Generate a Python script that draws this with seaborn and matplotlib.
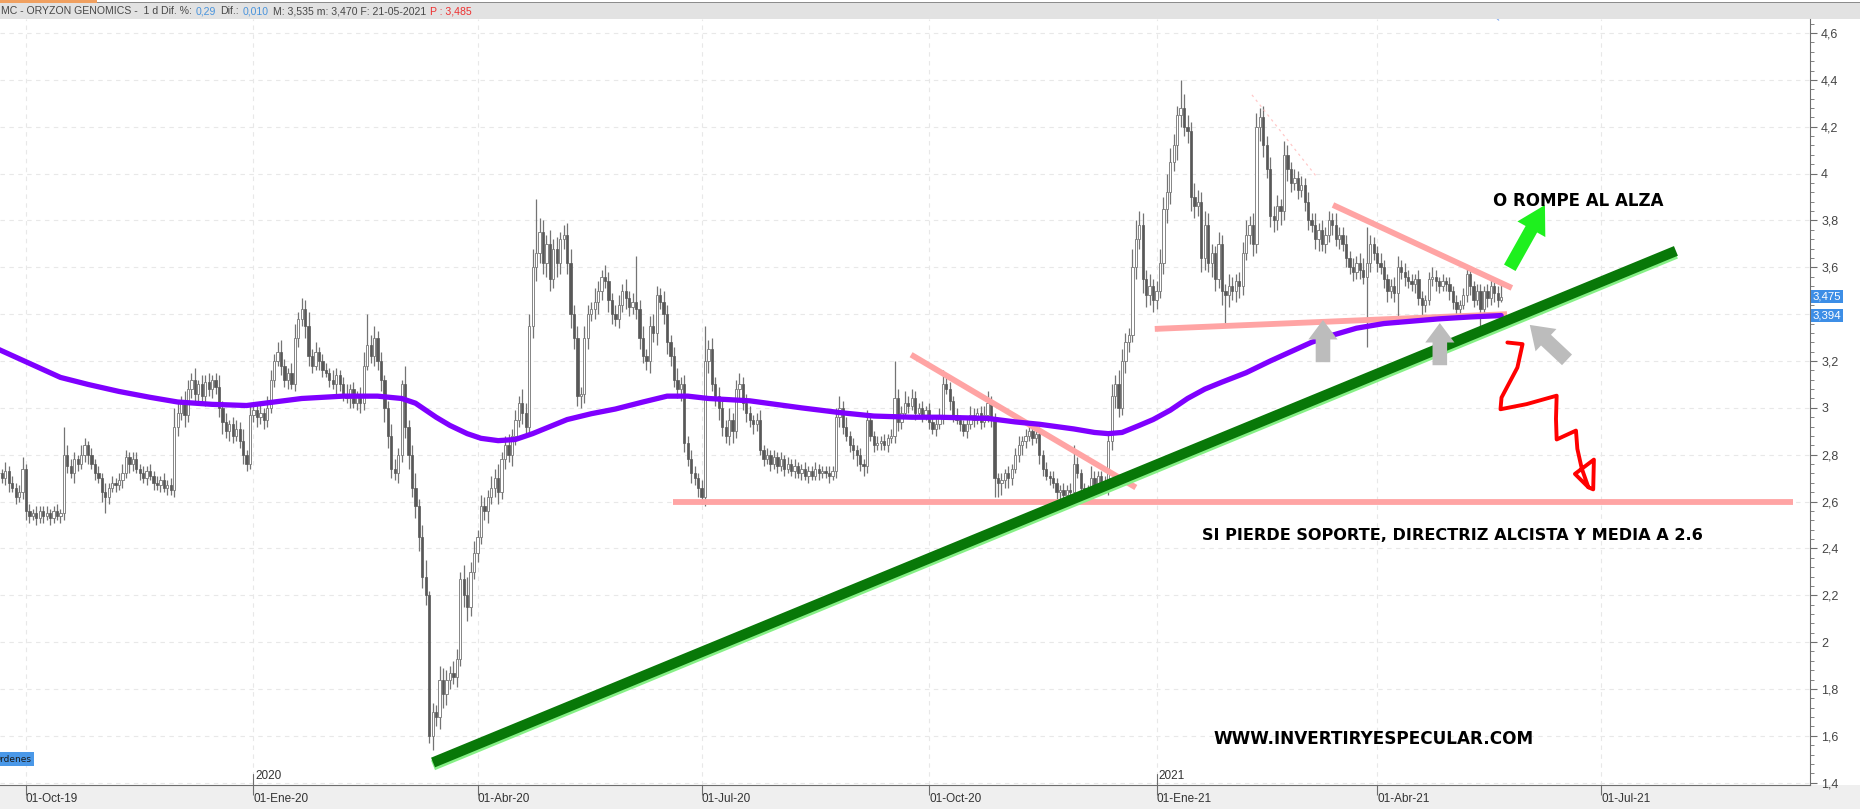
import numpy as np
import pandas as pd
import seaborn as sns
import matplotlib.pyplot as plt
import matplotlib.transforms as mtrans
from matplotlib.patches import Rectangle
from matplotlib.ticker import FuncFormatter, MultipleLocator

# daily closes, ORYZON GENOMICS, 19-Sep-2019 .. 21-May-2021
close = [
    2.72, 2.70, 2.73, 2.68, 2.66, 2.62, 2.64, 2.74, 2.56, 2.54,
    2.55, 2.53, 2.56, 2.54, 2.55, 2.53, 2.56, 2.54, 2.55, 2.80,
    2.75, 2.72, 2.78, 2.76, 2.80, 2.84, 2.80, 2.76, 2.72, 2.70,
    2.64, 2.62, 2.66, 2.68, 2.67, 2.69, 2.72, 2.79, 2.76, 2.78,
    2.74, 2.72, 2.70, 2.73, 2.71, 2.68, 2.67, 2.69, 2.66, 2.67,
    2.65, 2.92, 2.98, 3.02, 2.97, 3.08, 3.12, 3.06, 3.10, 3.05,
    3.11, 3.08, 3.12, 3.09, 3.00, 2.94, 2.90, 2.93, 2.88, 2.91,
    2.86, 2.80, 2.76, 2.97, 2.99, 2.96, 2.98, 2.95, 3.00, 3.12,
    3.20, 3.24, 3.18, 3.12, 3.15, 3.10, 3.30, 3.38, 3.42, 3.35,
    3.22, 3.18, 3.24, 3.20, 3.16, 3.15, 3.12, 3.10, 3.14, 3.10,
    3.06, 3.04, 3.08, 3.02, 3.05, 3.02, 3.18, 3.27, 3.22, 3.30,
    3.20, 3.12, 3.00, 2.88, 2.74, 2.72, 2.80, 3.10, 2.92, 2.80,
    2.66, 2.58, 2.45, 2.28, 2.20, 1.60, 1.70, 1.68, 1.84, 1.78,
    1.84, 1.87, 1.85, 1.93, 2.27, 2.20, 2.15, 2.30, 2.38, 2.45,
    2.58, 2.56, 2.62, 2.66, 2.70, 2.64, 2.78, 2.84, 2.80, 2.88,
    2.95, 3.02, 2.98, 2.92, 3.35, 3.60, 3.66, 3.75, 3.62, 3.70,
    3.55, 3.68, 3.62, 3.72, 3.74, 3.62, 3.40, 3.30, 3.05, 3.06,
    3.30, 3.40, 3.42, 3.45, 3.50, 3.56, 3.54, 3.46, 3.40, 3.38,
    3.44, 3.50, 3.47, 3.43, 3.45, 3.42, 3.30, 3.22, 3.20, 3.35,
    3.32, 3.48, 3.45, 3.40, 3.28, 3.22, 3.12, 3.08, 3.10, 2.85,
    2.78, 2.72, 2.70, 2.66, 2.62, 3.20, 3.25, 3.10, 3.05, 3.00,
    2.92, 2.88, 2.95, 2.90, 3.08, 3.10, 3.02, 2.98, 2.95, 2.93,
    2.95, 2.82, 2.78, 2.80, 2.76, 2.79, 2.75, 2.78, 2.74, 2.76,
    2.73, 2.75, 2.72, 2.74, 2.71, 2.73, 2.71, 2.74, 2.72, 2.73,
    2.72, 2.71, 2.73, 2.96, 3.00, 2.92, 2.88, 2.84, 2.82, 2.80,
    2.76, 2.75, 2.95, 2.88, 2.84, 2.85, 2.86, 2.84, 2.87, 2.88,
    3.04, 2.94, 2.98, 3.02, 3.01, 3.04, 2.98, 3.00, 2.97, 2.99,
    2.94, 2.91, 2.93, 2.96, 3.10, 3.08, 3.03, 2.97, 2.95, 2.93,
    2.90, 2.93, 2.97, 2.95, 2.98, 2.94, 2.97, 3.02, 2.96, 2.70,
    2.68, 2.69, 2.72, 2.70, 2.74, 2.80, 2.84, 2.86, 2.88, 2.90,
    2.87, 2.89, 2.80, 2.74, 2.71, 2.70, 2.68, 2.64, 2.65, 2.63,
    2.65, 2.64, 2.76, 2.72, 2.66, 2.64, 2.63, 2.70, 2.66, 2.71,
    2.68, 2.66, 2.86, 3.05, 3.10, 3.00, 3.20, 3.28, 3.31, 3.60,
    3.72, 3.78, 3.55, 3.48, 3.52, 3.46, 3.50, 3.62, 3.85, 3.92,
    4.05, 4.12, 4.25, 4.28, 4.20, 4.18, 3.90, 3.86, 3.88, 3.64,
    3.78, 3.62, 3.66, 3.55, 3.70, 3.50, 3.48, 3.52, 3.50, 3.54,
    3.52, 3.66, 3.74, 3.78, 3.70, 4.20, 4.24, 4.12, 4.02, 3.82,
    3.80, 3.86, 3.84, 4.08, 4.02, 3.96, 3.98, 3.93, 3.95, 3.88,
    3.80, 3.78, 3.72, 3.76, 3.70, 3.74, 3.80, 3.78, 3.72, 3.74,
    3.70, 3.64, 3.60, 3.58, 3.62, 3.59, 3.56, 3.62, 3.70, 3.66,
    3.62, 3.60, 3.55, 3.50, 3.52, 3.49, 3.60, 3.58, 3.56, 3.54,
    3.53, 3.55, 3.47, 3.44, 3.46, 3.55, 3.56, 3.54, 3.52, 3.54,
    3.53, 3.50, 3.45, 3.42, 3.44, 3.48, 3.57, 3.52, 3.46, 3.50,
    3.42, 3.50, 3.47, 3.52, 3.49, 3.46, 3.475,
]

# upper / lower shadow beyond the body, in cents
wick_up = [
    3, 2, 4, 2, 3, 2, 3, 5, 2, 3,   2, 3, 2, 2, 3, 2, 2, 3, 2, 12,
    4, 3, 3, 2, 4, 3, 2, 3, 2, 3,   2, 4, 2, 3, 2, 3, 4, 3, 2, 3,
    3, 2, 3, 2, 3, 2, 3, 2, 3, 2,   3, 8, 4, 3, 5, 4, 3, 5, 2, 4,
    3, 4, 2, 3, 5, 3, 4, 2, 3, 4,   3, 5, 2, 4, 3, 3, 4, 2, 5, 4,
    3, 4, 5, 3, 2, 4, 6, 3, 5, 4,   6, 3, 4, 2, 3, 3, 2, 4, 3, 2,
    3, 4, 2, 3, 2, 4, 6, 13, 4, 5,  3, 4, 2, 3, 5, 4, 3, 2, 8, 3,
    4, 6, 3, 5, 7, 2, 4, 3, 6, 5,   4, 3, 5, 4, 3, 6, 8, 4, 5, 3,
    5, 4, 3, 5, 4, 6, 3, 4, 5, 3,   4, 3, 6, 4, 5, 8, 23, 6, 5, 4,
    6, 4, 5, 3, 4, 5, 6, 4, 5, 3,   5, 4, 3, 6, 4, 3, 5, 4, 3, 4,
    4, 3, 5, 3, 4, 20, 4, 5, 3, 4,  5, 4, 3, 5, 4, 3, 4, 5, 3, 4,
    3, 4, 3, 2, 3, 15, 4, 5, 3, 4,  4, 3, 5, 3, 4, 5, 3, 4, 3, 2,
    3, 4, 2, 3, 2, 3, 2, 3, 2, 3,   2, 3, 2, 2, 3, 2, 2, 3, 2, 2,
    2, 3, 2, 4, 5, 3, 4, 2, 3, 2,   3, 2, 4, 3, 2, 3, 2, 3, 2, 3,
    16, 4, 3, 5, 3, 4, 3, 2, 3, 2,  3, 2, 3, 4, 6, 4, 3, 2, 3, 2,
    2, 3, 4, 3, 2, 3, 4, 5, 3, 2,   2, 3, 2, 3, 2, 3, 4, 2, 3, 4,
    3, 2, 3, 2, 3, 2, 3, 2, 2, 3,   2, 3, 8, 3, 2, 2, 3, 5, 3, 2,
    2, 3, 4, 5, 4, 6, 5, 4, 3, 8,   8, 6, 5, 4, 5, 3, 4, 6, 5, 8,
    6, 5, 4, 12, 6, 5, 4, 6, 5, 4,  6, 5, 4, 3, 5, 4, 3, 5, 4, 3,
    4, 5, 6, 4, 5, 6, 4, 5, 4, 5,   4, 5, 3, 6, 4, 3, 4, 3, 4, 3,
    4, 3, 5, 3, 4, 3, 4, 3, 5, 3,   3, 4, 3, 4, 3, 4, 5, 15, 4, 3,
    3, 4, 3, 2, 3, 4, 5, 3, 4, 3,   3, 2, 4, 3, 2, 3, 4, 3, 2, 3,
    2, 3, 2, 3, 2, 3, 4, 3, 2, 3,   3, 2, 3, 4, 2, 3, 6,
]
wick_dn = [
    3, 2, 3, 4, 2, 3, 2, 3, 4, 3,   2, 3, 2, 3, 2, 3, 2, 2, 3, 3,
    3, 2, 4, 3, 2, 3, 4, 2, 3, 2,   4, 7, 3, 2, 3, 2, 3, 2, 4, 3,
    2, 3, 2, 3, 2, 3, 2, 3, 2, 3,   2, 3, 4, 3, 5, 3, 4, 3, 4, 3,
    4, 3, 4, 3, 4, 5, 3, 4, 3, 2,   3, 4, 3, 2, 3, 4, 3, 4, 3, 2,
    3, 2, 4, 3, 4, 2, 3, 4, 3, 5,   4, 3, 2, 4, 3, 2, 3, 2, 4, 3,
    3, 2, 4, 2, 3, 4, 3, 2, 3, 4,   4, 5, 6, 5, 4, 3, 4, 3, 5, 6,
    4, 5, 6, 5, 4, 3, 6, 4, 5, 6,   5, 4, 3, 4, 3, 5, 6, 4, 3, 4,
    3, 4, 5, 3, 4, 5, 3, 4, 3, 5,   4, 3, 5, 4, 3, 5, 6, 4, 5, 6,
    5, 4, 6, 5, 4, 5, 6, 5, 4, 5,   4, 5, 3, 4, 5, 4, 3, 5, 4, 3,
    4, 3, 5, 4, 3, 4, 5, 3, 4, 5,   4, 5, 3, 4, 5, 4, 3, 4, 5, 4,
    3, 4, 3, 4, 3, 4, 5, 3, 4, 5,   4, 3, 4, 5, 3, 4, 3, 4, 3, 4,
    3, 2, 3, 2, 3, 2, 3, 2, 3, 2,   2, 3, 2, 3, 2, 3, 2, 2, 3, 2,
    2, 3, 2, 3, 4, 3, 2, 3, 4, 5,   3, 4, 3, 2, 3, 2, 3, 2, 3, 2,
    3, 4, 3, 2, 3, 2, 3, 2, 3, 2,   3, 2, 3, 2, 3, 2, 4, 3, 2, 3,
    2, 3, 2, 3, 2, 3, 2, 3, 4, 8,   6, 5, 3, 4, 3, 2, 3, 4, 3, 2,
    3, 2, 4, 3, 2, 3, 2, 4, 3, 2,   3, 2, 3, 2, 3, 2, 3, 2, 3, 2,
    3, 2, 3, 4, 5, 4, 3, 5, 4, 3,   5, 4, 6, 5, 4, 5, 4, 3, 5, 6,
    5, 4, 6, 5, 4, 5, 6, 5, 4, 6,   5, 4, 6, 5, 4, 6, 12, 5, 4, 5,
    5, 4, 3, 4, 5, 4, 6, 5, 4, 5,   5, 4, 6, 4, 5, 4, 3, 4, 3, 4,
    4, 3, 4, 5, 3, 4, 3, 4, 3, 4,   3, 4, 3, 4, 3, 4, 3, 30, 4, 3,
    4, 3, 4, 5, 3, 4, 13, 3, 4, 3,  3, 4, 3, 5, 3, 2, 3, 4, 3, 2,
    3, 4, 3, 2, 4, 2, 3, 4, 3, 2,   8, 3, 4, 3, 4, 3, 1,
]

# moving average (bar number, value)
ma_bar = [0, 9, 18, 26, 35, 44, 52, 62, 72, 80, 88, 100, 110, 117, 121, 124,
          127, 131, 136, 140, 145, 150, 155, 160, 165, 172, 179, 187, 194, 200,
          206, 218, 233, 244, 254, 265, 273, 287, 295, 302, 312, 318, 322, 326,
          331, 335, 340, 345, 350, 355, 362, 369, 375, 381, 387, 394, 402, 410,
          418, 427, 436]
ma_val = [3.25, 3.19, 3.13, 3.10, 3.07, 3.045, 3.025, 3.015, 3.01, 3.025, 3.04,
          3.05, 3.05, 3.04, 3.02, 2.99, 2.96, 2.925, 2.89, 2.87, 2.86, 2.865,
          2.89, 2.92, 2.95, 2.975, 2.995, 3.025, 3.05, 3.05, 3.04, 3.03, 3.00,
          2.98, 2.965, 2.96, 2.96, 2.955, 2.94, 2.93, 2.91, 2.895, 2.89, 2.895,
          2.925, 2.95, 2.99, 3.04, 3.08, 3.11, 3.15, 3.20, 3.24, 3.28, 3.31,
          3.34, 3.36, 3.37, 3.38, 3.388, 3.394]

tick_dates = ['2019-10-01', '2020-01-01', '2020-04-01', '2020-07-01',
              '2020-10-01', '2021-01-01', '2021-04-01', '2021-07-01']
tick_text = ['01-Oct-19', '01-Ene-20', '01-Abr-20', '01-Jul-20',
             '01-Oct-20', '01-Ene-21', '01-Abr-21', '01-Jul-21']
year_dates = ['2020-01-01', '2021-01-01']
year_text = ['2020', '2021']

# drawn lines (bar number, price)
trend_green = ([126.1, 486.7], [1.486, 3.67])
support = ([195.6, 520.8], [2.6, 2.6])
down_oct = ([264.8, 330.0], [3.227, 2.66])
tri_top = ([387.2, 439.1], [3.866, 3.512])
tri_low = ([335.5, 437.7], [3.337, 3.40])
faint_top = ([363.7, 382.8], [4.336, 3.98])
squiggle_x = [437.8, 442.2, 440.7, 436.1, 435.8, 443.4, 452.1, 451.9, 452.1,
              457.7, 458.1, 459.4, 461.3, 457.4, 462.9, 462.7, 461.3]
squiggle_y = [3.279, 3.272, 3.172, 3.044, 2.994, 3.016, 3.052, 2.953, 2.865,
              2.903, 2.825, 2.740, 2.661, 2.718, 2.779, 2.652, 2.661]

sns.set_theme(style='white')
plt.rcParams['font.family'] = ['DejaVu Sans']
axis_font = ['Liberation Sans', 'DejaVu Sans']

n = len(close)
dates = pd.bdate_range(end='2021-05-21', periods=n)
calendar = pd.bdate_range(start=dates[0], periods=620)

cl = np.array(close)
op = np.r_[cl[0], cl[:-1]]
hi = np.maximum(op, cl) + np.array(wick_up) / 100
lo = np.minimum(op, cl) - np.array(wick_dn) / 100
bars = pd.DataFrame({'bar': np.arange(n), 'open': op, 'close': cl,
                     'high': hi, 'low': lo})
ma = pd.DataFrame({'bar': ma_bar, 'ma': ma_val})

W, H = 1860, 809
fig = plt.figure(figsize=(W / 100, H / 100), dpi=100)
fig.patch.set_facecolor('white')
ax = fig.add_axes([0, 24 / H, 1810 / W, (785 - 19) / H])
ax.set_facecolor('white')
ax.set_xlim(0.46, 525.6)
ax.set_ylim(1.39, 4.66)

# grid
ax.yaxis.set_major_locator(MultipleLocator(0.2))
ax.yaxis.set_minor_locator(MultipleLocator(0.04))
tick_pos = [calendar.searchsorted(pd.Timestamp(d)) for d in tick_dates]
year_pos = [calendar.searchsorted(pd.Timestamp(d)) for d in year_dates]
ax.set_xticks(tick_pos)
ax.set_xticklabels(tick_text, ha='left', family=axis_font)
ax.grid(True, which='major', ls=(0, (4, 4)), color='#e8e8e8', lw=0.8)
ax.set_axisbelow(True)

# candles
ax.vlines(bars['bar'], bars['low'], bars['high'], color='#747474', lw=0.9, zorder=2)
up = bars[bars['close'] >= bars['open']]
dn = bars[bars['close'] < bars['open']]
ax.bar(up['bar'], (up['close'] - up['open']).clip(lower=0.004), bottom=up['open'],
       width=0.66, color='white', edgecolor='#858585', linewidth=0.7, zorder=3)
ax.bar(dn['bar'], dn['open'] - dn['close'], bottom=dn['close'],
       width=0.66, color='#585858', edgecolor='#585858', linewidth=0.5, zorder=3)

# pink drawings
pink = '#ffa4a4'
for (xs, ys) in [support, down_oct, tri_top, tri_low]:
    ax.plot(xs, ys, color=pink, lw=4.2, solid_capstyle='butt', zorder=4)
ax.plot(*faint_top, color='#ffc8c8', lw=0.9, ls=(0, (2, 3)), zorder=4)

# moving average
sns.lineplot(data=ma, x='bar', y='ma', ax=ax, color='#7f00ff', lw=3.8,
             sort=False, zorder=5, solid_joinstyle='round')

# green trend line with light edge
ax.plot(trend_green[0], np.array(trend_green[1]) - 0.012, color='#86f086',
        lw=7.5, solid_capstyle='butt', zorder=6)
ax.plot(*trend_green, color='#087808', lw=7.5, solid_capstyle='butt', zorder=6)

# arrows
def arrow(tail, tip, color, hl, hw, tw):
    ax.annotate('', xy=tip, xytext=tail, zorder=7,
                arrowprops=dict(arrowstyle=f'simple,head_length={hl},head_width={hw},tail_width={tw}',
                                mutation_scale=10, color=color, shrinkA=0, shrinkB=0, lw=0))

arrow((438.5, 3.598), (448.7, 3.866), '#1ef01e', 2.0, 2.3, 0.95)
arrow((384.3, 3.195), (384.3, 3.375), '#bcbcbc', 1.4, 2.1, 1.05)
arrow((418.2, 3.182), (418.2, 3.362), '#bcbcbc', 1.4, 2.1, 1.05)
arrow((455.1, 3.205), (444.3, 3.354), '#bcbcbc', 1.6, 2.2, 1.05)

ax.plot(squiggle_x, squiggle_y, color='#ff0000', lw=2.8, solid_joinstyle='round',
        solid_capstyle='round', zorder=7)
ax.plot([433.3, 435.3], [4.68, 4.655], color='#7fa8f0', lw=0.8, clip_on=True, zorder=7)

# texts
bold = dict(fontweight='heavy', color='black', va='center', ha='left', zorder=8)
ax.text(433.6, 3.883, 'O ROMPE AL ALZA', fontsize=12, **bold)
ax.text(349.2, 2.453, 'SI PIERDE SOPORTE, DIRECTRIZ ALCISTA Y MEDIA A 2.6', fontsize=11.6, **bold)
ax.text(352.6, 1.588, 'WWW.INVERTIRYESPECULAR.COM', fontsize=12.2, **bold)

# axes styling
for s in ['top', 'left']:
    ax.spines[s].set_visible(False)
ax.spines['right'].set_color('#6e6e6e')
ax.spines['bottom'].set_color('#6e6e6e')
ax.spines['right'].set_linewidth(0.8)
ax.spines['bottom'].set_linewidth(0.8)
ax.yaxis.tick_right()
ax.yaxis.set_major_formatter(FuncFormatter(
    lambda v, p: f'{v:.1f}'.rstrip('0').rstrip('.').replace('.', ',')))
for lab in ax.get_yticklabels():
    lab.set_family(axis_font)
ax.tick_params(axis='y', which='major', length=5, width=0.8, color='#6e6e6e',
               labelsize=9, labelcolor='#444444', pad=3, right=True, left=False)
ax.tick_params(axis='y', which='minor', length=3, width=0.6, color='#6e6e6e', right=True, left=False)
ax.tick_params(axis='x', which='major', length=7, width=0.8, color='#6e6e6e',
               labelsize=8.5, labelcolor='#333333', pad=-1.5, direction='out', bottom=True)
ax.set_xlabel('')
ax.set_ylabel('')

bx = mtrans.blended_transform_factory(ax.transData, ax.transAxes)
for p, t in zip(year_pos, year_text):
    ax.plot([p, p], [0, 0.014], transform=bx, color='#6e6e6e', lw=0.8, clip_on=False)
    ax.text(p + 0.6, 0.004, t, transform=bx, fontsize=8.5, color='#333333', ha='left',
            va='bottom', family=axis_font)

# price tags on the scale
ty = ax.get_yaxis_transform()
for v, s in [(3.475, '3,475'), (3.394, '3,394')]:
    ax.text(1.0015, v, s, transform=ty, fontsize=8.2, color='white', va='center', ha='left',
            zorder=9, clip_on=False, family=axis_font,
            bbox=dict(boxstyle='square,pad=0.14', fc='#3d8ee6', ec='none'))

# bottom band and header band
fig.patches.append(Rectangle((0, 0), 1, 24 / H, transform=fig.transFigure,
                             fc='#efefef', ec='none', zorder=-1))
fig.patches.append(Rectangle((0, (H - 19) / H), 1, 16 / H, transform=fig.transFigure,
                             fc='#e2e2e2', ec='none', zorder=-1))
fig.patches.append(Rectangle((0, (H - 3) / H), 1, 1 / H, transform=fig.transFigure,
                             fc='#8c8c8c', ec='none', zorder=-1))
fig.patches.append(Rectangle((0, (H - 3) / H), 97 / W, 3 / H, transform=fig.transFigure,
                             fc='#f0a060', ec='none', zorder=-1))

fig.text(-6 / W, (H - 759) / H, 'Órdenes', fontsize=6.5, color='#1a1a1a', va='center', ha='left',
         bbox=dict(boxstyle='square,pad=0.25', fc='#4a98e8', ec='none'))

renderer = fig.canvas.get_renderer()
header = [('MC - ORYZON GENOMICS -  1 d Dif. %:', '#474747'), ('0,29', '#4a94dc'),
          ('Dif.:', '#474747'), ('0,010', '#4a94dc'),
          ('M: 3,535 m: 3,470 F: 21-05-2021', '#474747'), ('P : 3,485', '#ee3030')]
xpos = 1 / W
for s, c in header:
    t = fig.text(xpos, (H - 11) / H, s, fontsize=7.6, color=c, va='center', ha='left',
                 family=axis_font)
    bb = t.get_window_extent(renderer)
    xpos = (bb.x1 + 4) / W

fig.savefig('out.png', dpi=100)
